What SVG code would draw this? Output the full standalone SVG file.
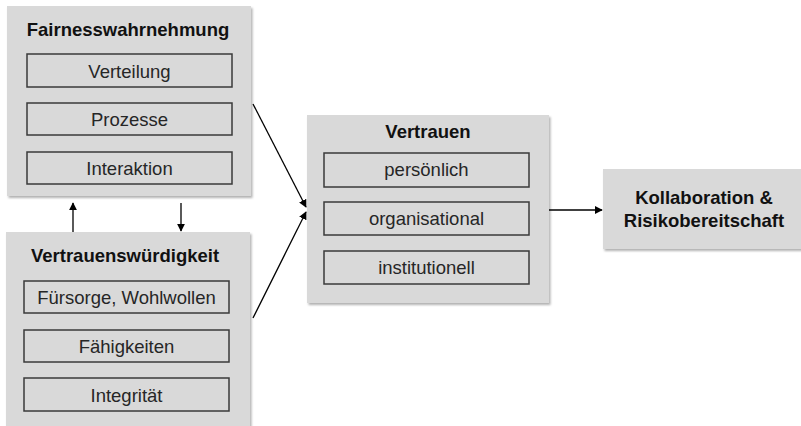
<svg xmlns="http://www.w3.org/2000/svg" width="801" height="426" viewBox="0 0 801 426">
<defs>
<filter id="sh" x="-5%" y="-5%" width="115%" height="115%">
<feDropShadow dx="1.5" dy="2" stdDeviation="1.2" flood-color="#000" flood-opacity="0.3"/>
</filter>
<marker id="ah" viewBox="0 0 10 10" refX="9" refY="5" markerWidth="8" markerHeight="8" markerUnits="userSpaceOnUse" orient="auto">
<path d="M0,0 L10,5 L0,10 z" fill="#000"/>
</marker>
<style>
.outer{fill:#d9d9d9;filter:url(#sh)}
.inner{fill:#d9d9d9;stroke:#3a3a3a;stroke-width:1.5}
.title{font-family:"Liberation Sans",Arial,sans-serif;font-weight:bold;font-size:18.5px;fill:#111;text-anchor:middle}
.lbl{font-family:"Liberation Sans",Arial,sans-serif;font-size:18.5px;fill:#262626;text-anchor:middle}
.con{stroke:#000;stroke-width:1.3;fill:none;marker-end:url(#ah)}
</style>
</defs>
<g id="fairness">
<rect class="outer" x="7" y="6" width="244" height="190"/>
<text class="title" x="128" y="36">Fairnesswahrnehmung</text>
<rect class="inner" x="27" y="54" width="205" height="33"/>
<text class="lbl" x="129.5" y="78">Verteilung</text>
<rect class="inner" x="27" y="103" width="205" height="32"/>
<text class="lbl" x="129.5" y="126">Prozesse</text>
<rect class="inner" x="27" y="152" width="205" height="32"/>
<text class="lbl" x="129.5" y="175">Interaktion</text>
</g>
<g id="vertrauenswuerdigkeit">
<rect class="outer" x="6" y="232" width="244" height="194"/>
<text class="title" x="125" y="262">Vertrauenswürdigkeit</text>
<rect class="inner" x="24" y="281" width="205" height="32"/>
<text class="lbl" x="126.5" y="304">Fürsorge, Wohlwollen</text>
<rect class="inner" x="24" y="330" width="205" height="32"/>
<text class="lbl" x="126.5" y="353">Fähigkeiten</text>
<rect class="inner" x="24" y="378" width="205" height="33"/>
<text class="lbl" x="126.5" y="402">Integrität</text>
</g>
<g id="vertrauen">
<rect class="outer" x="307" y="115" width="242" height="188"/>
<text class="title" x="428" y="138">Vertrauen</text>
<rect class="inner" x="324" y="153" width="205" height="34"/>
<text class="lbl" x="426.5" y="176">persönlich</text>
<rect class="inner" x="324" y="202" width="205" height="33"/>
<text class="lbl" x="426.5" y="225">organisational</text>
<rect class="inner" x="324" y="251" width="205" height="33"/>
<text class="lbl" x="426.5" y="274">institutionell</text>
</g>
<g id="kollaboration">
<rect class="outer" x="603" y="169" width="200" height="80"/>
<text class="title" x="704" y="204">Kollaboration &amp;</text>
<text class="title" x="704" y="227">Risikobereitschaft</text>
</g>
<g id="connectors">
<line class="con" x1="73" y1="232" x2="73" y2="203"/>
<line class="con" x1="181" y1="203" x2="181" y2="231"/>
<line class="con" x1="253" y1="104" x2="306" y2="207"/>
<line class="con" x1="253" y1="318" x2="306" y2="212"/>
<line class="con" x1="549" y1="210" x2="602" y2="210"/>
</g>
</svg>
